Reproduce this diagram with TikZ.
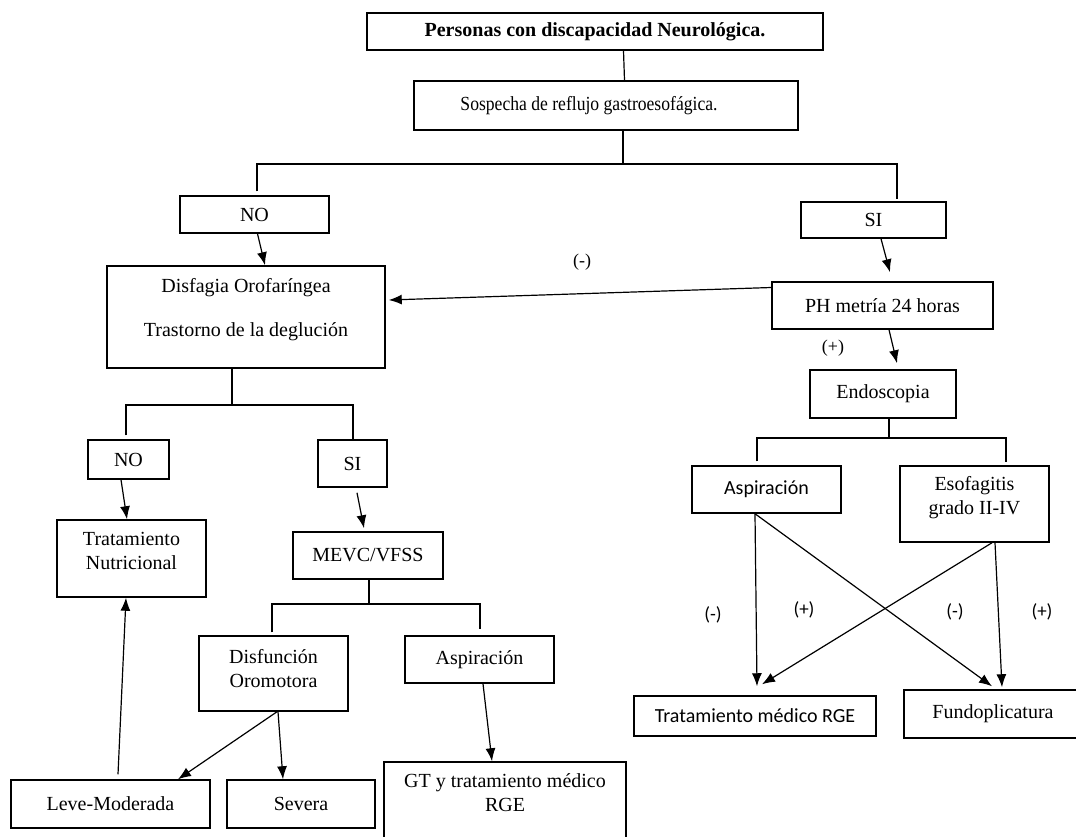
\documentclass[tikz,border=0pt]{standalone}
\usepackage{fontspec}
\setmainfont{Liberation Serif}
\newfontfamily\calibri{Carlito}
\newfontfamily\estrecha[FakeStretch=0.88]{Liberation Serif}
\usetikzlibrary{arrows.meta}
\tikzset{
	caja/.style={draw, line width=1.5pt, inner sep=0pt, align=center, font=\fontsize{20}{24}\selectfont},
	cajasans/.style={caja, font=\calibri\fontsize{20}{24}\selectfont},
	linea/.style={line width=1.2pt},
	flecha/.style={line width=1.2pt, -{Latex[length=13pt,width=10pt]}},
	signo/.style={font=\fontsize{18}{20}\selectfont},
	signosans/.style={font=\calibri\fontsize{19}{20}\selectfont}
}

\begin{document}
\begin{tikzpicture}[x=1pt,y=-1pt]
			%%%%% START %%%%%
			\def\ancho{149}
			\def\alto{47}

			\useasboundingbox (0,0) rectangle (1076,836);

			\node[caja, minimum width=456, minimum height=37, font=\bfseries\fontsize{20}{24}\selectfont] (pers) at (595,31.5) {Personas con discapacidad Neurológica.};
			\node[caja, minimum width=384, minimum height=49, font=\estrecha\fontsize{20}{24}\selectfont] (sosp) at (606,105.5) {Sospecha de reflujo gastroesofágica.\hspace*{34pt}};
			\node[caja, minimum width=\ancho, minimum height=37] (no1) at (254.5,214.5) {NO};
			\node[caja, minimum width=145, minimum height=36] (si1) at (873.5,220) {SI};
			\node[caja, minimum width=278, minimum height=102, text depth=19pt] (disf) at (246,317) {Disfagia Orofaríngea\\[20pt]Trastorno de la deglución};
			\node[caja, minimum width=221, minimum height=\alto] (ph) at (882.5,305.5) {PH metría 24 horas};
			\node[caja, minimum width=146, minimum height=48] (endo) at (883,394) {Endoscopia};

			% rama izquierda
			\node[caja, minimum width=81, minimum height=39] (no2) at (128.5,459.5) {NO};
			\node[caja, minimum width=69, minimum height=\alto] (si2) at (352.5,463.5) {SI};
			\node[caja, minimum width=\ancho, minimum height=77, text depth=16pt] (tnut) at (131.5,558.5) {Tratamiento\\Nutricional};
			\node[caja, minimum width=150, minimum height=\alto] (mevc) at (368,555.5) {MEVC/VFSS};
			\node[caja, minimum width=\ancho, minimum height=75, text depth=11pt] (disfun) at (273.5,673.5) {Disfunción\\Oromotora};
			\node[caja, minimum width=\ancho, minimum height=\alto] (asp1) at (479.5,659.5) {Aspiración};
			\node[caja, minimum width=199, minimum height=48] (leve) at (110.5,804) {Leve-Moderada};
			\node[caja, minimum width=148, minimum height=48] (sev) at (301,804) {Severa};
			\node[caja, minimum width=242, minimum height=88, text depth=26pt] (gt) at (505,806) {GT y tratamiento médico\\RGE};

			% rama derecha
			\node[cajasans, minimum width=\ancho, minimum height=\alto] (asp2) at (766.5,489.5) {Aspiración};
			\node[caja, minimum width=\ancho, minimum height=76, text depth=18pt] (esof) at (974.5,504) {Esofagitis\\grado II-IV};
			\node[cajasans, minimum width=242, minimum height=40] (tmed) at (755,716) {Tratamiento médico RGE};
			\node[caja, minimum width=178, minimum height=48] (fundo) at (993,714) {Fundoplicatura};

			\node[signo] (m1) at (582,262) {(-)};
			\node[signo] (p1) at (833,348) {(+)};
			\node[signosans] (m2) at (713,615) {(-)};
			\node[signosans] (p2) at (804,610) {(+)};
			\node[signosans] (m3) at (955,612) {(-)};
			\node[signosans] (p3) at (1042,612) {(+)};

			\coordinate (b1) at (623,164);
			\coordinate (b2) at (889,438);
			\coordinate (b3) at (232,405);
			\coordinate (b4) at (369,604);

			\draw[linea] ([xshift=28.5pt]pers.south) -- ([xshift=18.5pt]sosp.north);
			\draw[linea] ([xshift=17pt]sosp.south) -- (b1);
			\draw[linea] ([xshift=2.5pt,yshift=4pt]no1.north) |- (b1) -| ([xshift=23.5pt,yshift=2pt]si1.north);
			\draw[flecha] ([xshift=3pt]no1.south) -- ([xshift=19pt]disf.north);
			\draw[flecha] ([xshift=7.5pt]si1.south) -- ([xshift=7.5pt,yshift=9pt]ph.north);
			\draw[flecha] ([yshift=18pt]ph.west) -- ([xshift=3pt,yshift=17pt]disf.east);
			\draw[flecha] ([xshift=6.5pt]ph.south) -- ([xshift=14pt,yshift=6pt]endo.north);

			\draw[linea] ([xshift=-14pt]disf.south) -- (b3);
			\draw[linea] ([xshift=-2.5pt,yshift=4pt]no2.north) |- (b3) -| ([xshift=0.5pt]si2.north);
			\draw[flecha] ([xshift=-7.5pt]no2.south) -- ([xshift=-4.5pt]tnut.north);
			\draw[flecha] ([xshift=4.5pt,yshift=-5pt]si2.south) -- ([xshift=-4pt,yshift=3pt]mevc.north);
			\draw[linea] ([xshift=1pt]mevc.south) -- (b4);
			\draw[linea] ([xshift=-1.5pt,yshift=3pt]disfun.north) |- (b4) -| ([xshift=0.5pt,yshift=6pt]asp1.north);
			\draw[flecha] ([xshift=3.5pt]disfun.south) -- ([xshift=67.5pt]leve.north);
			\draw[flecha] ([xshift=4.5pt]disfun.south) -- ([xshift=-18pt]sev.north);
			\draw[flecha] ([xshift=7.5pt,yshift=5pt]leve.north) -- ([xshift=-5.5pt]tnut.south);
			\draw[flecha] ([xshift=3.5pt]asp1.south) -- ([xshift=-13pt]gt.north);

			\draw[linea] ([xshift=6pt]endo.south) -- (b2);
			\draw[linea] ([xshift=-9.5pt,yshift=4pt]asp2.north) |- (b2) -| ([xshift=31.5pt,yshift=3pt]esof.north);
			\draw[flecha] ([xshift=-11.5pt]asp2.south) -- ([xshift=2pt,yshift=9pt]tmed.north);
			\draw[flecha] ([xshift=-11.5pt]asp2.south) -- ([xshift=-1pt,yshift=3pt]fundo.north);
			\draw[flecha] ([xshift=17.5pt]esof.south) -- ([xshift=7pt,yshift=11pt]tmed.north);
			\draw[flecha] ([xshift=20.5pt]esof.south) -- ([xshift=9pt,yshift=2pt]fundo.north);
			%%%%% END %%%%%
\end{tikzpicture}
\end{document}
